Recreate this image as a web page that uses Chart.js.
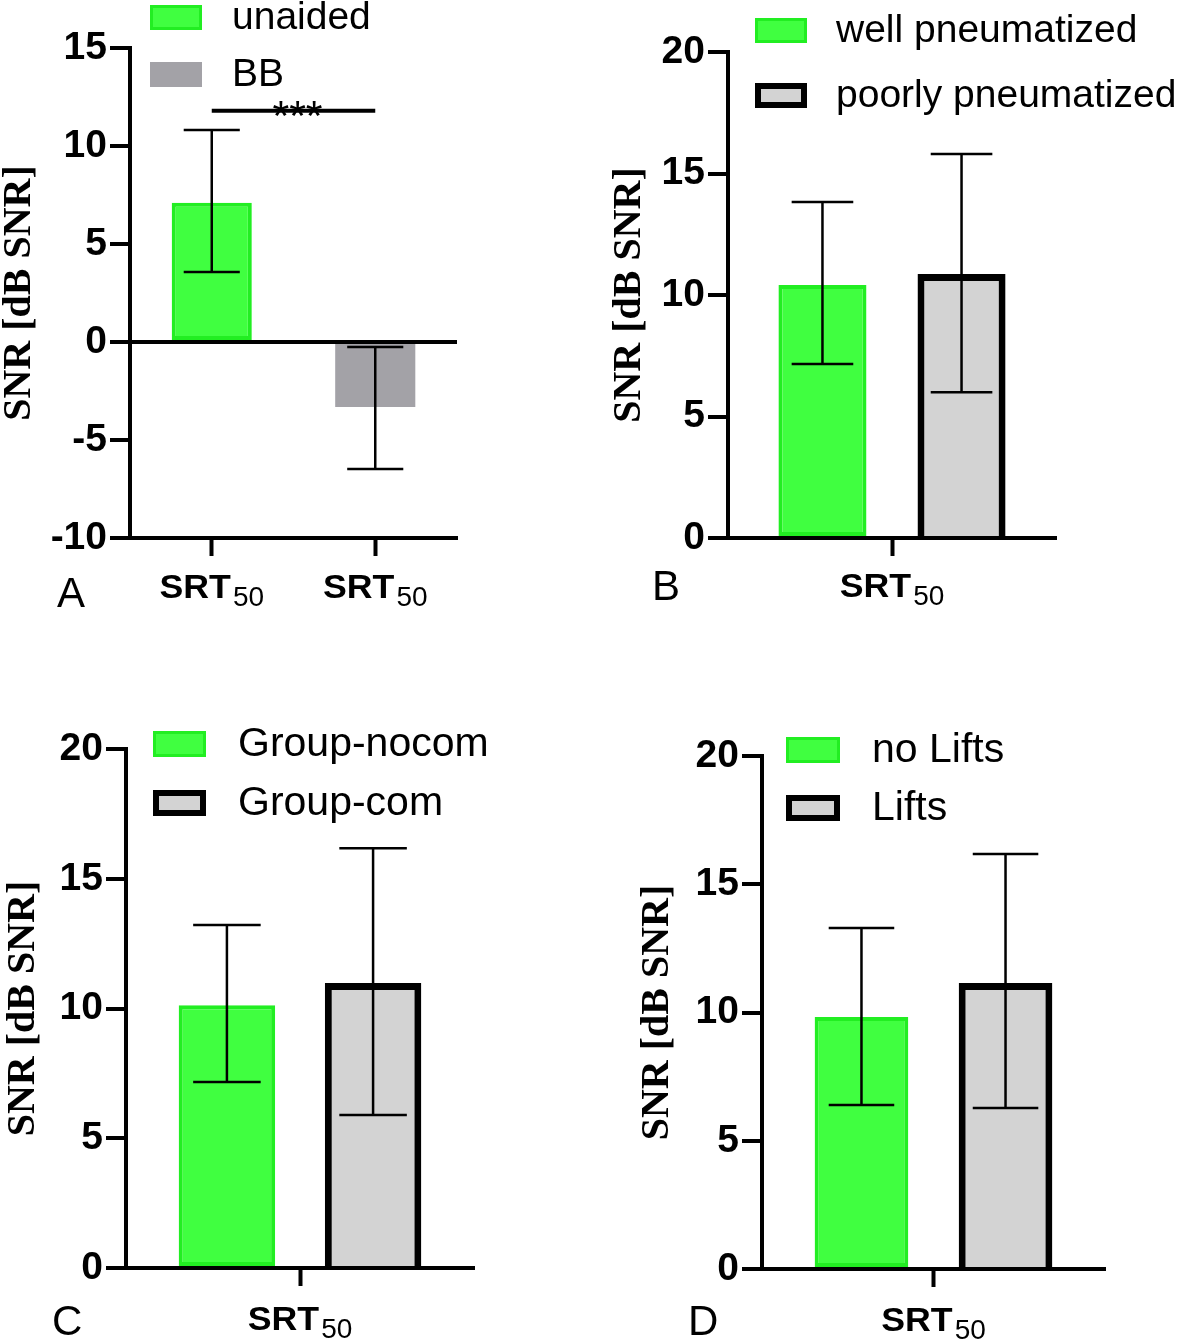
<!DOCTYPE html>
<html><head><meta charset="utf-8">
<script src="https://cdn.jsdelivr.net/npm/chart.js@4.4.0/dist/chart.umd.min.js"></script>
<style>
html,body{margin:0;padding:0;background:#fff;}
body{width:1181px;height:1343px;position:relative;overflow:hidden;}
.p{position:absolute;}
canvas{display:block;}
</style></head><body>
<div class="p" style="left:0;top:0"><canvas id="cA" width="590" height="640"></canvas></div>
<div class="p" style="left:590px;top:0"><canvas id="cB" width="591" height="640"></canvas></div>
<div class="p" style="left:0;top:640px"><canvas id="cC" width="590" height="703"></canvas></div>
<div class="p" style="left:590px;top:640px"><canvas id="cD" width="591" height="703"></canvas></div>
<script>
// ---------- DATA ----------
const categoriesA = ['SRT50', 'SRT50'];
const unaidedMean = [7.1, null];
const unaidedLow  = [3.57, null];
const unaidedHigh = [10.82, null];
const bbMean = [null, -3.32];
const bbLow  = [null, -6.48];
const bbHigh = [null, -0.26];
const ticksA = [-10, -5, 0, 5, 10, 15];
const sigA = { from: 0, to: 1, value: 11.8, text: '***' };

const categoriesB = ['SRT50'];
const wellMean = [10.41], wellLow = [7.16], wellHigh = [13.83];
const poorMean = [10.86], poorLow = [6.0], poorHigh = [15.8];

const categoriesC = ['SRT50'];
const nocomMean = [10.13], nocomLow = [7.17], nocomHigh = [13.22];
const comMean = [10.98], comLow = [5.9], comHigh = [16.18];

const categoriesD = ['SRT50'];
const noLiftsMean = [9.82], noLiftsLow = [6.39], noLiftsHigh = [13.29];
const liftsMean = [11.15], liftsLow = [6.28], liftsHigh = [16.18];

const ticksBCD = [0, 5, 10, 15, 20];

// ---------- STYLES ----------
Chart.defaults.font.family = '"Liberation Sans", Arial, sans-serif';
const GREEN = { backgroundColor: '#40ff40', borderColor: '#22ee22', borderWidth: 4, borderSkipped: false };
const GRAYA = { backgroundColor: '#a3a2a7', borderColor: '#a3a2a7', borderWidth: 0 };
const GRAY  = { backgroundColor: '#d3d3d3', borderColor: '#000000', borderWidth: 7, borderSkipped: 'start' };

// ---------- PLUGINS ----------
const errorBars = {
  id: 'errorBars',
  afterDatasetsDraw(chart, args, o) {
    const ctx = chart.ctx, ys = chart.scales.y;
    chart.data.datasets.forEach((ds, di) => {
      const meta = chart.getDatasetMeta(di);
      meta.data.forEach((bar, i) => {
        const lo = ds.errLow ? ds.errLow[i] : null, hi = ds.errHigh ? ds.errHigh[i] : null;
        if (lo == null || hi == null || ds.data[i] == null) return;
        const x = bar.x, w = bar.width * (o.cap || 0.7);
        const yl = ys.getPixelForValue(lo), yh = ys.getPixelForValue(hi);
        ctx.save();
        ctx.strokeStyle = '#000'; ctx.lineWidth = 2.5; ctx.lineCap = 'butt';
        ctx.beginPath();
        ctx.moveTo(x, yh); ctx.lineTo(x, yl);
        ctx.moveTo(x - w / 2, yh); ctx.lineTo(x + w / 2, yh);
        ctx.moveTo(x - w / 2, yl); ctx.lineTo(x + w / 2, yl);
        ctx.stroke();
        ctx.restore();
      });
    });
  }
};

const boxLegend = {
  id: 'boxLegend',
  afterDraw(chart, args, o) {
    const ctx = chart.ctx;
    chart.data.datasets.forEach((ds, i) => {
      const x = o.x, y = o.y + i * o.gap, w = o.w, h = o.h;
      ctx.save();
      ctx.fillStyle = ds.backgroundColor;
      ctx.fillRect(x, y, w, h);
      const lw = o.lw[i];
      if (lw) {
        ctx.strokeStyle = ds.borderColor; ctx.lineWidth = lw;
        ctx.strokeRect(x + lw / 2, y + lw / 2, w - lw, h - lw);
      }
      ctx.fillStyle = '#000';
      ctx.font = o.size + 'px "Liberation Sans", Arial, sans-serif';
      ctx.textBaseline = 'middle';
      ctx.textAlign = 'left';
      ctx.fillText(ds.label, o.tx, y + h / 2 + 1);
      ctx.restore();
    });
  }
};

const subLabels = {
  id: 'subLabels',
  afterDraw(chart, args, o) {
    const ctx = chart.ctx, xs = chart.scales.x;
    const baseY = chart.chartArea.bottom + o.dy;
    chart.data.labels.forEach((lab, i) => {
      const m = String(lab).match(/^(\D+)(\d+)$/);
      const main = m ? m[1] : lab, sub = m ? m[2] : '';
      const px = xs.getPixelForTick(i);
      ctx.save();
      const fMain = 'bold 34px "Liberation Sans", Arial, sans-serif';
      const fSub = '28px "Liberation Sans", Arial, sans-serif';
      ctx.font = fMain; const wMain = ctx.measureText(main).width * o.stretch;
      ctx.font = fSub; const wSub = ctx.measureText(sub).width;
      const x0 = px - (wMain + wSub + 2) / 2;
      ctx.fillStyle = '#000'; ctx.textBaseline = 'alphabetic'; ctx.textAlign = 'left';
      ctx.save(); ctx.translate(x0, baseY); ctx.scale(o.stretch, 1);
      ctx.font = fMain; ctx.fillText(main, 0, 0); ctx.restore();
      ctx.font = fSub; ctx.fillText(sub, x0 + wMain + 2, baseY + 8);
      ctx.restore();
    });
    if (o.letter) {
      ctx.save();
      ctx.fillStyle = '#000'; ctx.font = '42px "Liberation Sans", Arial, sans-serif';
      ctx.textBaseline = 'alphabetic'; ctx.textAlign = 'left';
      ctx.fillText(o.letter, o.lx, o.ly);
      ctx.restore();
    }
  }
};

const sigBar = {
  id: 'sigBar',
  afterDraw(chart, args, o) {
    if (!o.sig) return;
    const ctx = chart.ctx, xs = chart.scales.x, ys = chart.scales.y;
    const x1 = xs.getPixelForTick(o.sig.from), x2 = xs.getPixelForTick(o.sig.to);
    const y = ys.getPixelForValue(o.sig.value);
    ctx.save();
    ctx.fillStyle = '#000';
    ctx.font = '43px "Liberation Sans", Arial, sans-serif';
    ctx.textAlign = 'center'; ctx.textBaseline = 'alphabetic';
    ctx.fillText(o.sig.text, (x1 + x2) / 2 + 4, y + 19);
    ctx.strokeStyle = '#000'; ctx.lineWidth = 4;
    ctx.beginPath(); ctx.moveTo(x1, y); ctx.lineTo(x2, y); ctx.stroke();
    ctx.restore();
  }
};

// ---------- FACTORY ----------
function panel(id, labels, datasets, ticks, g, extra) {
  const zeroLine = ticks[0] < 0;
  return new Chart(document.getElementById(id), {
    type: 'bar',
    data: { labels, datasets },
    options: {
      responsive: false, animation: false, devicePixelRatio: 1,
      layout: { padding: { left: g.pl, top: g.pt, right: g.pr, bottom: g.pb } },
      datasets: { bar: { categoryPercentage: g.cp, barPercentage: g.bp, skipNull: true } },
      plugins: {
        legend: { display: false }, tooltip: { enabled: false },
        errorBars: { cap: 0.7 },
        boxLegend: extra.legend,
        subLabels: extra.labels,
        sigBar: { sig: extra.sig || null }
      },
      scales: {
        x: {
          afterFit: s => { s.height = g.xh; },
          ticks: { display: false },
          grid: { offset: false, drawOnChartArea: false, drawTicks: true, tickLength: 18, tickWidth: 4, tickColor: '#000', color: '#000' },
          border: { display: true, color: '#000', width: 4 }
        },
        y: {
          min: ticks[0], max: ticks[ticks.length - 1],
          afterFit: s => { s.width = g.yw; },
          ticks: { stepSize: ticks[1] - ticks[0], color: '#000', padding: 3,
                   font: { size: 39, weight: 'bold', family: '"Liberation Sans", Arial, sans-serif' } },
          grid: {
            drawOnChartArea: zeroLine, drawTicks: true, tickLength: 20, tickWidth: 4, tickColor: '#000',
            color: c => (c.tick && c.tick.value === 0) ? '#000' : 'rgba(0,0,0,0)',
            lineWidth: c => (c.tick && c.tick.value === 0) ? 4 : 0
          },
          border: { display: true, color: '#000', width: 4 },
          title: { display: true, text: 'SNR [dB SNR]', color: '#000', padding: 0,
                   font: { family: '"Liberation Serif", "Times New Roman", serif', size: 40, weight: 'bold', lineHeight: 1 } }
        }
      }
    },
    plugins: [errorBars, boxLegend, subLabels, sigBar]
  });
}

// Panel A
panel('cA', categoriesA, [
  Object.assign({ label: 'unaided', data: unaidedMean, errLow: unaidedLow, errHigh: unaidedHigh }, GREEN),
  Object.assign({ label: 'BB', data: bbMean, errLow: bbLow, errHigh: bbHigh }, GRAYA)
], ticksA,
  { pl: 0, yw: 130, pt: 48, pr: 133, pb: 42, xh: 60, cp: 0.7, bp: 0.7 },
  { legend: { x: 150, y: 5, w: 52, h: 25, gap: 57, tx: 232, size: 39, lw: [3, 0] },
    labels: { dy: 60, stretch: 1.05, letter: 'A', lx: 57, ly: 607 },
    sig: sigA });

// Panel B
panel('cB', categoriesB, [
  Object.assign({ label: 'well pneumatized', data: wellMean, errLow: wellLow, errHigh: wellHigh }, GREEN),
  Object.assign({ label: 'poorly pneumatized', data: poorMean, errLow: poorLow, errHigh: poorHigh }, GRAY)
], ticksBCD,
  { pl: 20, yw: 118, pt: 52, pr: 125, pb: 42, xh: 60, cp: 0.848, bp: 0.633 },
  { legend: { x: 165, y: 18, w: 52, h: 25, gap: 65, tx: 246, size: 39, lw: [3, 6] },
    labels: { dy: 59, stretch: 1.05, letter: 'B', lx: 62, ly: 600 } });

// Panel C
panel('cC', categoriesC, [
  Object.assign({ label: 'Group-nocom', data: nocomMean, errLow: nocomLow, errHigh: nocomHigh }, GREEN),
  Object.assign({ label: 'Group-com', data: comMean, errLow: comLow, errHigh: comHigh }, GRAY)
], ticksBCD,
  { pl: 4, yw: 122, pt: 109, pr: 116, pb: 15, xh: 60, cp: 0.84, bp: 0.66 },
  { legend: { x: 153, y: 91, w: 53, h: 26, gap: 59, tx: 238, size: 41, lw: [3, 6] },
    labels: { dy: 62, stretch: 1.05, letter: 'C', lx: 52, ly: 695 } });

// Panel D
panel('cD', categoriesD, [
  Object.assign({ label: 'no Lifts', data: noLiftsMean, errLow: noLiftsLow, errHigh: noLiftsHigh }, GREEN),
  Object.assign({ label: 'Lifts', data: liftsMean, errLow: liftsLow, errHigh: liftsHigh }, GRAY)
], ticksBCD,
  { pl: 48, yw: 124, pt: 116, pr: 76, pb: 14, xh: 60, cp: 0.84, bp: 0.65 },
  { legend: { x: 196, y: 97, w: 54, h: 26, gap: 58, tx: 282, size: 41, lw: [3, 6] },
    labels: { dy: 62, stretch: 1.05, letter: 'D', lx: 98, ly: 695 } });
</script>
</body></html>
